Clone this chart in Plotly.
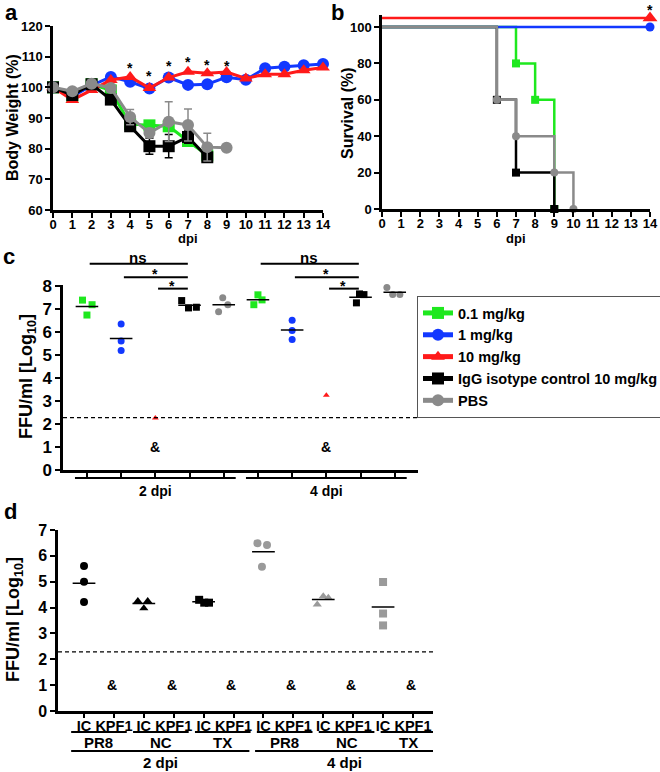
import plotly.graph_objects as go

W, H = 660, 772
FONT = "Liberation Sans"

# ---------------- DATA ----------------
# Panel a: body weight (% of day 0)
days = list(range(15))
bw_01mg = [100, 97, 101, 99, 88, 87.6, 87.3, 82.5, 77.8]
bw_1mg = [100, 97, 100.6, 103.4, 101.8, 99.6, 103.2, 100.8, 101.0, 103.3, 102.5, 106.2, 106.7, 107.2, 107.6]
bw_10mg = [100, 95.9, 99.1, 102.4, 103.4, 99.8, 103.2, 105.1, 104.6, 105.0, 102.9, 104.3, 104.3, 105.6, 106.5]
bw_igg = [100, 97.5, 101.0, 96.0, 87.3, 80.8, 80.8, 83.8, 77.2]
bw_pbs = [100, 98.7, 101.2, 99.8, 90.3, 85.1, 88.8, 87.7, 80.5, 80.3]
err_igg = [0, 0.8, 0.8, 1.0, 1.2, 2.6, 3.8, 2.0, 0.8]
err_pbs = [0, 0.6, 0.6, 0.8, 2.5, 1.5, 6.5, 5.2, 4.5, 0]
sig_days_a = [4, 5, 6, 7, 8, 9]
sig_y_a = [107.3, 104.8, 107.8, 109.1, 108.4, 108.0]

# Panel b: survival (%)
surv_01_x, surv_01_y = [0, 7, 8, 9], [100, 80, 60, 0]
surv_1_x, surv_1_y = [0, 14], [100, 100]
surv_10_x, surv_10_y = [0, 14], [100, 100]
surv_igg_x, surv_igg_y = [0, 6, 7, 9], [100, 60, 20, 0]
surv_pbs_x, surv_pbs_y = [0, 6, 7, 9, 10], [100, 60, 40, 20, 0]
sig_day_b = 14

# Panel c: lung titers FFU/ml [log10]
c_01_2dpi = [7.40, 6.75, 7.20]
c_1_2dpi = [6.36, 5.62, 5.20]
c_10_2dpi = [2.26]
c_igg_2dpi = [7.38, 7.06, 7.09]
c_pbs_2dpi = [6.89, 7.50, 7.20]
c_01_4dpi = [7.20, 7.63, 7.41]
c_1_4dpi = [6.52, 6.08, 5.68]
c_10_4dpi = [3.26]
c_igg_4dpi = [7.28, 7.67, 7.64]
c_pbs_4dpi = [7.95, 7.64, 7.64]
c_lod = 2.28
c_timepoints = ["2 dpi", "4 dpi"]

# Panel d: titers per strain
d_ticktext = ["IC", "KPF1"] * 6
d_strains = ["PR8", "NC", "TX", "PR8", "NC", "TX"]
d_timepoints = ["2 dpi", "4 dpi"]
d_ic_pr8_2 = [5.61, 5.00, 4.22]
d_ic_nc_2 = [4.25, 3.97, 4.25]
d_ic_tx_2 = [4.30, 4.19, 4.19]
d_ic_pr8_4 = [6.49, 5.58, 6.42]
d_ic_nc_4 = [4.12, 4.44, 4.38]
d_ic_tx_4 = [4.99, 3.77, 3.31]
d_lod = 2.29

legend_names = ["0.1 mg/kg", "1 mg/kg", "10 mg/kg", "IgG isotype control 10 mg/kg", "PBS"]

# ---------------- STYLE ----------------
GREEN, BLUE, RED, BLACK, GRAY = "#1ee81e", "#1238ff", "#ff1a1a", "#000000", "#8a8a8a"
LGRAY = "#9a9a9a"
RED_OFFSET_B = 5  # red survival curve drawn slightly above 100 for visibility


def px(x):
    return x / W


def py(y):
    return 1 - y / H


def axis(domain, rng, anchor, size=13, **kw):
    d = dict(domain=domain, range=rng, anchor=anchor, showline=True, linecolor="black",
             linewidth=2.5, ticks="outside", ticklen=5, tickwidth=2, tickcolor="black",
             showgrid=False, zeroline=False, fixedrange=True, automargin=False,
             tickfont=dict(family=FONT, size=size, color="black", weight="bold"))
    d.update(kw)
    return d


DOM = {
    "a": ([px(53), px(323)], [py(210), py(26)]),
    "b": ([px(382), px(650)], [py(209), py(15.2)]),
    "c": ([px(63), px(418)], [py(470), py(284.5)]),
    "d": ([px(58), px(433)], [py(711), py(529.5)]),
}
RNG_B = [0, 106.5]
RNG_C = [0, 8.08]
RNG_D = [0, 7.02]
XR_C = [-0.70, 9.68]
XR_D = [-0.87, 11.67]


def cy(v):
    d = DOM["c"][1]
    return d[0] + (v - RNG_C[0]) / (RNG_C[1] - RNG_C[0]) * (d[1] - d[0])


fig = go.Figure()

# ---------------- Panel a ----------------
a_series = [
    (bw_01mg, None, GREEN, "square"),
    (bw_1mg, None, BLUE, "circle"),
    (bw_10mg, None, RED, "triangle-up"),
    (bw_igg, err_igg, BLACK, "square"),
    (bw_pbs, err_pbs, GRAY, "circle"),
]
for name, (vals, err, col, sym) in zip(legend_names, a_series):
    kw = {}
    if err is not None:
        kw["error_y"] = dict(type="data", array=err, visible=True, color=col, thickness=1.5, width=4)
    fig.add_trace(go.Scatter(
        x=days[:len(vals)], y=vals, mode="lines+markers", name=name,
        line=dict(color=col, width=3), marker=dict(symbol=sym, size=12, color=col),
        xaxis="x", yaxis="y", cliponaxis=False, showlegend=True, **kw))

# ---------------- Panel b ----------------
b_series = [
    (surv_01_x, surv_01_y, GREEN, "square", 8, 0),
    (surv_1_x, surv_1_y, BLUE, "circle", 9, 0),
    (surv_igg_x, surv_igg_y, BLACK, "square", 8, 0),
    (surv_pbs_x, surv_pbs_y, GRAY, "circle", 8, 0),
    (surv_10_x, surv_10_y, RED, "triangle-up", 13, RED_OFFSET_B),
]
for xs, ys, col, sym, ms, off in b_series:
    yy = [v + off for v in ys]
    fig.add_trace(go.Scatter(x=xs, y=yy, mode="lines", line=dict(color=col, width=2.5, shape="hv"),
                             xaxis="x2", yaxis="y2", showlegend=False, cliponaxis=False))
    fig.add_trace(go.Scatter(x=xs[1:], y=yy[1:], mode="markers",
                             marker=dict(symbol=sym, size=ms, color=col),
                             xaxis="x2", yaxis="y2", showlegend=False, cliponaxis=False))

# ---------------- Panel c ----------------
c_groups = [
    (c_01_2dpi, GREEN, "square", [-0.13, 0.0, 0.15], True),
    (c_1_2dpi, BLUE, "circle", [0, 0, 0], True),
    (c_10_2dpi, RED, "triangle-up", [0], False),
    (c_igg_2dpi, BLACK, "square", [-0.23, -0.03, 0.2], True),
    (c_pbs_2dpi, GRAY, "circle", [-0.15, -0.03, 0.12], True),
    (c_01_4dpi, GREEN, "square", [-0.12, 0.0, 0.12], True),
    (c_1_4dpi, BLUE, "circle", [0, 0, 0], True),
    (c_10_4dpi, RED, "triangle-up", [0], False),
    (c_igg_4dpi, BLACK, "square", [-0.12, -0.03, 0.1], True),
    (c_pbs_4dpi, GRAY, "circle", [-0.23, -0.06, 0.15], True),
]
mx, my = [], []
for i, (vals, col, sym, jit, mean) in enumerate(c_groups):
    fig.add_trace(go.Scatter(x=[i + j for j in jit], y=vals, mode="markers",
                             marker=dict(symbol=sym, size=7 if sym != "triangle-up" else 6, color=col),
                             xaxis="x3", yaxis="y3", showlegend=False, cliponaxis=False))
    if mean:
        m = sum(vals) / len(vals)
        mx += [i - 0.33, i + 0.33, None]
        my += [m, m, None]
fig.add_trace(go.Scatter(x=mx, y=my, mode="lines", line=dict(color="black", width=1.5),
                         xaxis="x3", yaxis="y3", showlegend=False))

# ---------------- Panel d ----------------
d_groups = [
    (0, d_ic_pr8_2, BLACK, "circle", [0, 0, 0]),
    (2, d_ic_nc_2, BLACK, "triangle-up", [-0.2, 0.0, 0.13]),
    (4, d_ic_tx_2, BLACK, "square", [-0.15, 0.02, 0.18]),
    (6, d_ic_pr8_4, LGRAY, "circle", [-0.2, -0.05, 0.12]),
    (8, d_ic_nc_4, LGRAY, "triangle-up", [-0.2, 0.0, 0.17]),
    (10, d_ic_tx_4, LGRAY, "square", [0, 0, 0]),
]
mx, my = [], []
for i, vals, col, sym, jit in d_groups:
    fig.add_trace(go.Scatter(x=[i + j for j in jit], y=vals, mode="markers",
                             marker=dict(symbol=sym, size=8, color=col),
                             xaxis="x4", yaxis="y4", showlegend=False, cliponaxis=False))
    m = sum(vals) / len(vals)
    mx += [i - 0.38, i + 0.38, None]
    my += [m, m, None]
fig.add_trace(go.Scatter(x=mx, y=my, mode="lines", line=dict(color="black", width=1.5),
                         xaxis="x4", yaxis="y4", showlegend=False))

# ---------------- Shapes & annotations ----------------
shapes = []
ann = []


def text(x, y, t, size=13, xref="paper", yref="paper", angle=0, xanchor="center",
         yanchor="middle", yshift=0):
    ann.append(dict(x=x, y=y, xref=xref, yref=yref, text=t, showarrow=False, textangle=angle,
                    xanchor=xanchor, yanchor=yanchor, yshift=yshift,
                    font=dict(family=FONT, size=size, color="black", weight="bold")))


# panel letters
text(px(11), py(13), "a", size=22)
text(px(337), py(12), "b", size=22)
text(px(9), py(256), "c", size=22)
text(px(10), py(511), "d", size=22)

# axis titles
text(px(13), py(118), "Body Weight (%)", size=16, angle=-90)
text(px(188), py(238), "dpi", size=13)
text(px(348), py(113), "Survival (%)", size=16, angle=-90)
text(px(516), py(238), "dpi", size=13)
text(px(28), py(377), "FFU/ml [Log<sub>10</sub>]", size=18, angle=-90)
text(px(14), py(620), "FFU/ml [Log<sub>10</sub>]", size=18, angle=-90)

# panel a significance (asterisk glyph sits high in its text box)
for d_, y_ in zip(sig_days_a, sig_y_a):
    text(d_, y_, "*", size=14, xref="x", yref="y", yshift=-3)
# panel b significance (above the plotting range -> paper y)
text(sig_day_b, py(10), "*", size=14, xref="x2")

# panel c: LOD, brackets, & marks, group lines
shapes.append(dict(type="line", xref="x3 domain", yref="y3", x0=0, x1=1, y0=c_lod, y1=c_lod,
                   line=dict(color="black", width=1.3, dash="4px,3px")))
brackets = [(0, 3, 8.98, "ns", 257), (1, 3, 8.40, "*", 274), (2, 3, 7.90, "*", 285.5)]
for base in (0, 5):
    for (s, e, lvl, lab, ty) in brackets:
        shapes.append(dict(type="line", xref="x3", yref="paper", x0=base + s + 0.08, x1=base + e - 0.05,
                           y0=cy(lvl), y1=cy(lvl), line=dict(color="black", width=2)))
        text(base + (s + e) / 2, py(ty), lab, size=15 if lab == "ns" else 14, xref="x3")
    text(base + 2, 1.0, "&", size=14, xref="x3", yref="y3")
for k, tp in enumerate(c_timepoints):
    ctr = 2 + 5 * k
    shapes.append(dict(type="line", xref="x3", yref="paper", x0=ctr - 2.35, x1=ctr + 2.35,
                       y0=py(478), y1=py(478), line=dict(color="black", width=2)))
    text(ctr, py(491), tp, size=14, xref="x3")

# panel d: LOD, & marks, group lines
shapes.append(dict(type="line", xref="x4 domain", yref="y4", x0=0, x1=1, y0=d_lod, y1=d_lod,
                   line=dict(color="black", width=1.3, dash="4px,3px")))
for i in range(1, 12, 2):
    text(i - 0.07, 1.0, "&", size=14, xref="x4", yref="y4")
for k, st in enumerate(d_strains):
    ctr = 2 * k + 0.5 + 0.07 * k
    shapes.append(dict(type="line", xref="x4", yref="paper", x0=ctr - 0.93, x1=ctr + 0.93,
                       y0=py(732), y1=py(732), line=dict(color="black", width=2)))
    text(ctr, py(742), st, size=15, xref="x4")
for k, tp in enumerate(d_timepoints):
    ctr = 2.55 + 6.15 * k
    shapes.append(dict(type="line", xref="x4", yref="paper", x0=ctr - 2.98, x1=ctr + 2.98,
                       y0=py(751), y1=py(751), line=dict(color="black", width=2)))
    text(ctr, py(762), tp, size=15, xref="x4")

fig.update_layout(
    width=W, height=H, margin=dict(l=0, r=0, t=0, b=0, autoexpand=False), autosize=False,
    paper_bgcolor="white", plot_bgcolor="white",
    font=dict(family=FONT, color="black"),
    xaxis=axis(DOM["a"][0], [0, 14], "y", dtick=1, ticklabelstandoff=-4),
    yaxis=axis(DOM["a"][1], [60, 120], "x", dtick=10),
    xaxis2=axis(DOM["b"][0], [0, 14], "y2", dtick=1, ticklabelstandoff=-4),
    yaxis2=axis(DOM["b"][1], RNG_B, "x2", tickvals=[0, 20, 40, 60, 80, 100]),
    xaxis3=axis(DOM["c"][0], XR_C, "y3", tickvals=list(range(10)), showticklabels=False),
    yaxis3=axis(DOM["c"][1], RNG_C, "x3", size=17, dtick=1),
    xaxis4=axis(DOM["d"][0], XR_D, "y4", size=14.5, tickvals=list(range(12)), ticktext=d_ticktext,
                ticklabelstandoff=-4, ticklen=4),
    yaxis4=axis(DOM["d"][1], RNG_D, "x4", size=16, dtick=1),
    shapes=shapes, annotations=ann,
    legend=dict(x=px(417), y=py(296), xanchor="left", yanchor="top", bordercolor="#555",
                borderwidth=1, bgcolor="white", itemsizing="constant", itemwidth=30,
                tracegroupgap=0,
                font=dict(family=FONT, size=14.5, color="black", weight="bold")),
    showlegend=True,
)

fig.write_html("out.html", config={"displayModeBar": False},
               post_script="document.body.style.margin='0';")
